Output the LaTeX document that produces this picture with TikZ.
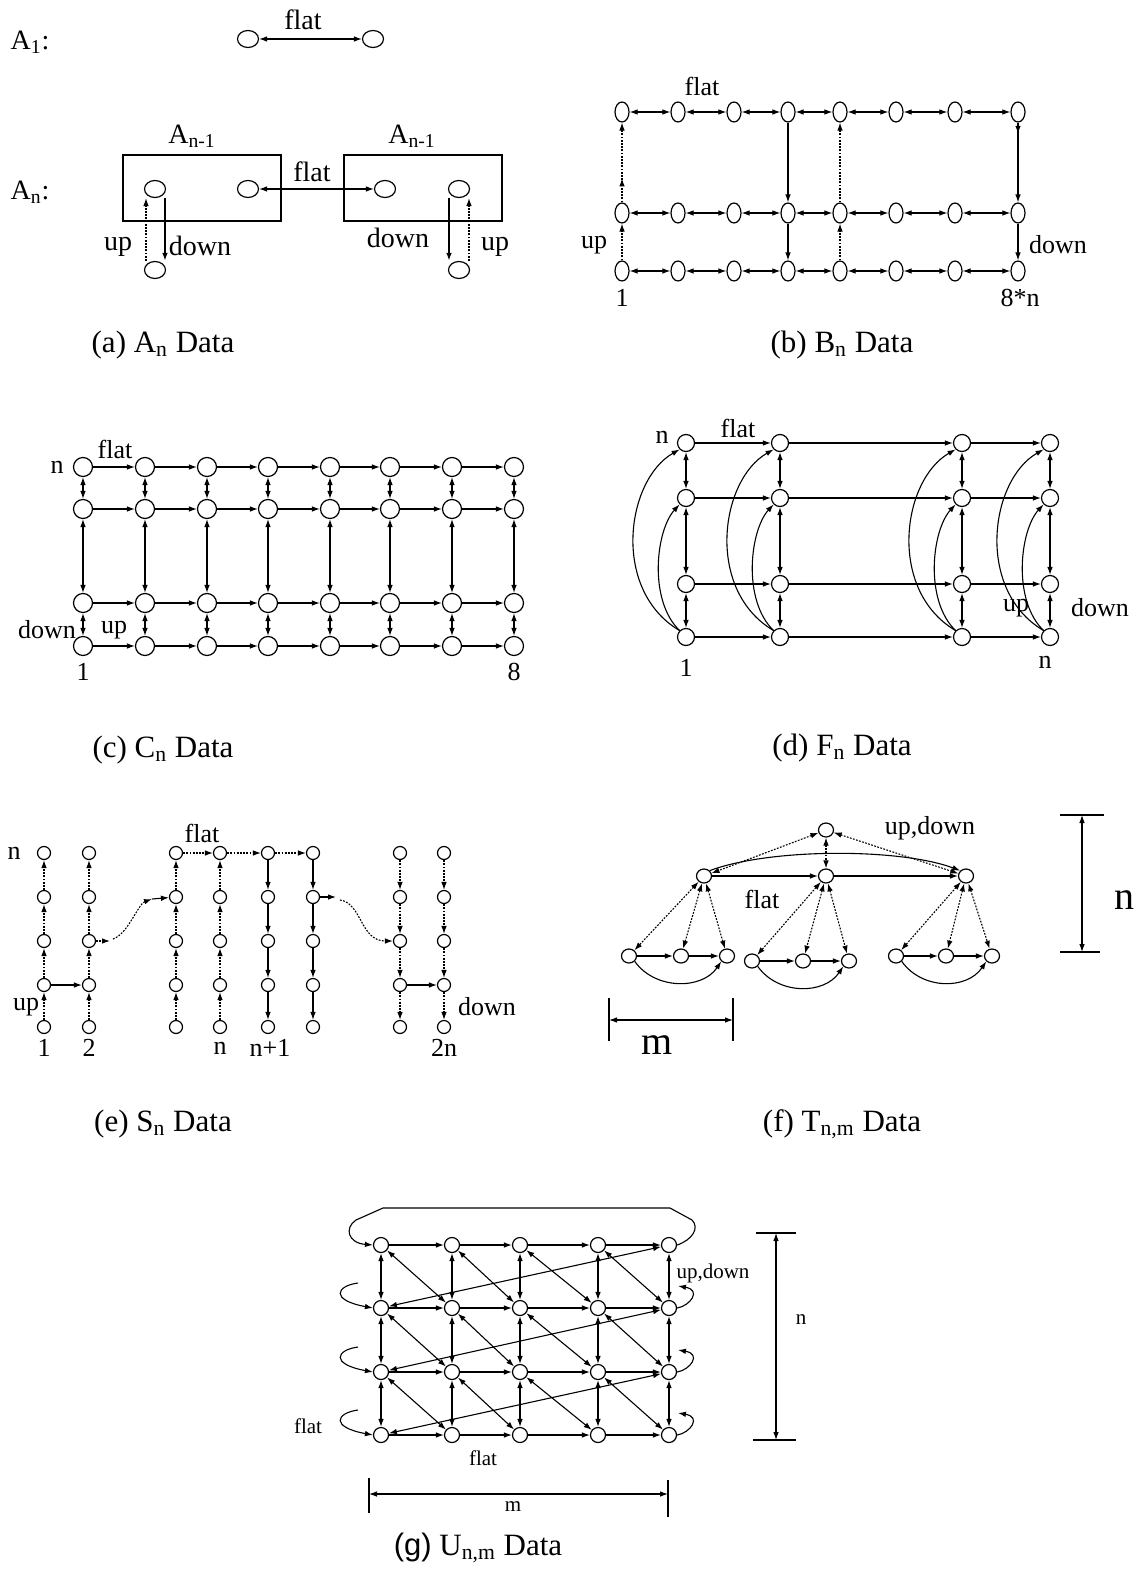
\documentclass[tikz,border=0pt]{standalone}
\usepackage{fontspec}
\setmainfont{Liberation Serif}
\newfontfamily\sansf{Liberation Sans}
\usetikzlibrary{arrows.meta,shapes.geometric,decorations.markings}
\tikzset{
  >={Latex[length=4pt,width=2.8pt]},
  ln/.style={line width=0.55pt},
  thk/.style={line width=0.9pt},
  dl/.style={line width=0.55pt, dash pattern=on 0.9pt off 0.7pt},
  vx/.style={draw, ellipse, inner sep=0pt, line width=0.6pt},
  vA/.style={vx, minimum width=10.5pt, minimum height=8.5pt},
  vB/.style={vx, minimum width=7pt, minimum height=10pt},
  vC/.style={vx, minimum width=9.5pt, minimum height=9.5pt},
  vD/.style={vx, minimum width=8.5pt, minimum height=8.5pt},
  vE/.style={vx, minimum width=6.5pt, minimum height=6.5pt},
  vF/.style={vx, minimum width=7.5pt, minimum height=7pt},
  vG/.style={vx, minimum width=7.5pt, minimum height=7.5pt},
  lab/.style={inner sep=0pt, font=\fontsize{13}{13}\selectfont},
  labA/.style={inner sep=0pt, font=\fontsize{14}{14}\selectfont},
  labG/.style={inner sep=0pt, font=\fontsize{10.5}{10.5}\selectfont},
  labL/.style={inner sep=0pt, font=\fontsize{20}{20}\selectfont},
  capt/.style={inner sep=0pt, font=\fontsize{15.5}{16}\selectfont},
  midarr/.style={postaction={decorate}, decoration={markings, mark=at position #1 with {\arrow{>}}}},
}
\begin{document}
\begin{tikzpicture}[x=0.5pt,y=-0.5pt]
\path[use as bounding box] (0,0) rectangle (1146,1573);

% ---------------- (a) ----------------
\node[labA] at (30,42) {A\textsubscript{1}:};
\node[vA] (a1) at (248,39) {};
\node[vA] (a2) at (373,39) {};
\draw[ln,<->] (a1) -- (a2);
\node[labA] at (303,20) {flat};
\node[labA] at (192,136) {A\textsubscript{n-1}};
\node[labA] at (412,136) {A\textsubscript{n-1}};
\node[labA] at (30,192) {A\textsubscript{n}:};
\draw[ln] (123,155) rectangle (281,221);
\draw[ln] (344,155) rectangle (502,221);
\node[vA] (aL1) at (155,189) {};
\node[vA] (aL2) at (248,189) {};
\node[vA] (aR1) at (385,189) {};
\node[vA] (aR2) at (459,189) {};
\node[vA] (aLb) at (155,270) {};
\node[vA] (aRb) at (459,270) {};
\draw[ln,<->] (aL2) -- (aR1);
\node[labA] at (312,172) {flat};
\draw[dl,->] ([xshift=-4.5pt]aLb.north) -- ([xshift=-4.5pt]aL1.south);
\draw[thk,->] ([xshift=5pt]aL1.south) -- ([xshift=5pt]aLb.north);
\draw[thk,->] ([xshift=-5pt]aR2.south) -- ([xshift=-5pt]aRb.north);
\draw[dl,->] ([xshift=5pt]aRb.north) -- ([xshift=5pt]aR2.south);
\node[labA] at (118,247) {up};
\node[labA] at (200,246) {down};
\node[labA] at (398,238) {down};
\node[labA] at (495,247) {up};
\node[capt] at (163,345) {(a) A\textsubscript{n} Data};

% ---------------- (b) ----------------
\foreach \x [count=\i] in {622,678,734,788,840,896,955,1018}{
  \foreach \y [count=\j] in {112,213,271}{\node[vB] (b\i\j) at (\x,\y) {};}}
\foreach \i in {1,...,7}{\pgfmathtruncatemacro\k{\i+1}
  \foreach \j in {1,2,3}{\draw[ln,<->] (b\i\j) -- (b\k\j);}}
\draw[dl,->] (b13) -- (b12);
\draw[dl,->,midarr=0.3] (b12) -- (b11);
\draw[ln,->] (b41) -- (b42);
\draw[ln,->] (b42) -- (b43);
\draw[dl,->] (b53) -- (b52);
\draw[dl,->] (b52) -- (b51);
\draw[ln,->,midarr=0.14] (b81) -- (b82);
\draw[ln,->] (b82) -- (b83);
\node[lab] at (702,86) {flat};
\node[lab] at (594,245) {up};
\node[lab] at (1058,245) {down};
\node[lab] at (622,298) {1};
\node[lab] at (1020,298) {8*n};
\node[capt] at (842,345) {(b) B\textsubscript{n} Data};

% ---------------- (c) ----------------
\foreach \x [count=\i] in {83,145,207,268,330,390,452,514}{
  \foreach \y [count=\j] in {467,509,603,646}{\node[vC] (c\i\j) at (\x,\y) {};}}
\foreach \i in {1,...,7}{\pgfmathtruncatemacro\k{\i+1}
  \foreach \j in {1,...,4}{\draw[ln,->] (c\i\j) -- (c\k\j);}}
\foreach \i in {1,...,8}{\foreach \j in {1,2,3}{\pgfmathtruncatemacro\l{\j+1}
  \draw[ln,<->] (c\i\j) -- (c\i\l);}}
\node[lab] at (57,467) {n};
\node[lab] at (115,449) {flat};
\node[lab] at (47,630) {down};
\node[lab] at (114,630) {up};
\node[lab] at (83,672) {1};
\node[lab] at (514,672) {8};
\node[capt] at (163,750) {(c) C\textsubscript{n} Data};

% ---------------- (d) ----------------
\foreach \x [count=\i] in {686,780,962,1050}{
  \foreach \y [count=\j] in {443,498,584,637}{\node[vD] (d\i\j) at (\x,\y) {};}}
\foreach \i in {1,2,3}{\pgfmathtruncatemacro\k{\i+1}
  \foreach \j in {1,...,4}{\draw[ln,->] (d\i\j) -- (d\k\j);}}
\foreach \i in {1,...,4}{\foreach \j in {1,2,3}{\pgfmathtruncatemacro\l{\j+1}
  \draw[ln,<->] (d\i\j) -- (d\i\l);}}
\foreach \x [count=\i] in {686,780,962,1050}{
  \draw[ln,->] (d\i4.north west) .. controls ({\x-75},590) and ({\x-60},480) .. (d\i1.south west);
  \draw[ln,->] (d\i4.north west) .. controls ({\x-38},600) and ({\x-30},530) .. (d\i2.south west);}
\node[lab] at (662,437) {n};
\node[lab] at (738,428) {flat};
\node[lab] at (686,668) {1};
\node[lab] at (1045,662) {n};
\node[lab] at (1016,608) {up};
\node[lab] at (1100,608) {down};
\node[capt] at (842,748) {(d) F\textsubscript{n} Data};

% ---------------- (e) ----------------
\foreach \x [count=\i] in {44,89,176,220,268,313,400,444}{
  \foreach \y [count=\j] in {853,897,941,985,1027}{\node[vE] (e\i\j) at (\x,\y) {};}}
\foreach \i in {1,2,3,4}{\foreach \j in {1,...,4}{\pgfmathtruncatemacro\l{\j+1}
  \draw[dl,->] (e\i\l) -- (e\i\j);}}
\foreach \i in {5,6}{\foreach \j in {1,...,4}{\pgfmathtruncatemacro\l{\j+1}
  \draw[ln,->] (e\i\j) -- (e\i\l);}}
\foreach \i in {7,8}{\foreach \j in {1,...,4}{\pgfmathtruncatemacro\l{\j+1}
  \draw[dl,->] (e\i\j) -- (e\i\l);}}
\draw[ln,->] (e14) -- (e24);
\draw[dl,->] (e31) -- (e41);
\draw[dl,->] (e41) -- (e51);
\draw[dl,->] (e51) -- (e61);
\draw[ln,->] (e74) -- (e84);
\coordinate (eq1) at (110,941);
\coordinate (eq2) at (113,939);
\coordinate (eq3) at (152,899);
\draw[dl,->] (e23) -- (eq1);
\draw[dl,->] (eq2) .. controls (128,934) and (138,904) .. (eq3);
\draw[ln,->] (eq3) -- (e32);
\coordinate (eq4) at (336,897);
\coordinate (eq5) at (340,900);
\draw[ln,->] (e62) -- (eq4);
\draw[dl,->] (eq5) .. controls (362,903) and (360,941) .. (e73.west);
\node[lab] at (14,853) {n};
\node[lab] at (202,833) {flat};
\node[lab] at (26,1007) {up};
\node[lab] at (487,1007) {down};
\node[lab] at (44,1048) {1};
\node[lab] at (89,1048) {2};
\node[lab] at (220,1048) {n};
\node[lab] at (270,1048) {n+1};
\node[lab] at (444,1048) {2n};
\node[capt] at (163,1124) {(e) S\textsubscript{n} Data};

% ---------------- (f) ----------------
\node[vF] (fr) at (826,830) {};
\node[vF] (f1) at (704,876) {};
\node[vF] (f2) at (826,876) {};
\node[vF] (f3) at (966,876) {};
\node[vF] (f11) at (629,956) {};
\node[vF] (f12) at (681,956) {};
\node[vF] (f13) at (727,956) {};
\node[vF] (f21) at (752,961) {};
\node[vF] (f22) at (803,961) {};
\node[vF] (f23) at (849,961) {};
\node[vF] (f31) at (896,956) {};
\node[vF] (f32) at (946,956) {};
\node[vF] (f33) at (992,956) {};
\foreach \i in {1,2,3}{\draw[dl,<->] (fr) -- (f\i);
  \foreach \j in {1,2,3}{\draw[dl,<->] (f\i) -- (f\i\j);}
  \draw[ln,->] (f\i1) -- (f\i2);
  \draw[ln,->] (f\i2) -- (f\i3);}
\draw[ln,->] (f1) -- (f2);
\draw[ln,->] (f2) -- (f3);
\draw[ln,->] (f1.north east) .. controls (770,848) and (900,848) .. (f3.north west);
\draw[ln,->] (f11.south east) .. controls (655,990) and (702,990) .. (f13.south west);
\draw[ln,->] (f21.south east) .. controls (778,995) and (824,995) .. (f23.south west);
\draw[ln,->] (f31.south east) .. controls (922,990) and (967,990) .. (f33.south west);
\coordinate (fn1) at (1082,815);
\coordinate (fn2) at (1082,952);
\draw[ln,<->] (fn1) -- (fn2);
\draw[ln] (1060,815) -- (1104,815);
\draw[ln] (1060,952) -- (1100,952);
\coordinate (fm1) at (609,1020);
\coordinate (fm2) at (733,1020);
\draw[ln,<->] (fm1) -- (fm2);
\draw[ln] (609,998) -- (609,1041);
\draw[ln] (733,998) -- (733,1041);
\node[lab] at (930,828) {up,down};
\node[lab] at (762,899) {flat};
\node[labL] at (1124,900) {n};
\node[labL] at (657,1045) {m};
\node[capt] at (842,1124) {(f) T\textsubscript{n,m} Data};

% ---------------- (g) ----------------
\foreach \x [count=\i] in {381,452,520,598,669}{
  \foreach \y [count=\j] in {1245,1308,1372,1435}{\node[vG] (g\i\j) at (\x,\y) {};}}
\foreach \i in {1,...,4}{\pgfmathtruncatemacro\k{\i+1}
  \foreach \j in {1,...,4}{\draw[ln,->] (g\i\j) -- (g\k\j);}}
\foreach \i in {1,...,5}{\foreach \j in {1,2,3}{\pgfmathtruncatemacro\l{\j+1}
  \draw[ln,<->] (g\i\j) -- (g\i\l);}}
\foreach \i in {1,...,4}{\pgfmathtruncatemacro\k{\i+1}
  \foreach \j in {1,2,3}{\pgfmathtruncatemacro\l{\j+1}
  \draw[ln,<->] (g\i\j) -- (g\k\l);}}
\foreach \j in {1,2,3}{\pgfmathtruncatemacro\l{\j+1}
  \draw[ln,<->] (g5\j) -- (g1\l);}
\draw[ln,->] (g51.east) .. controls (692,1240) and (700,1228) .. (692,1220) -- (670,1208) -- (383,1208) -- (356,1220) .. controls (344,1228) and (348,1243) .. (g11.west);
\foreach \y [count=\j from 2] in {1308,1372,1435}{
  \coordinate (gs\j) at (358,{\y-25});
  \draw[ln,->] (gs\j) .. controls (336,{\y-22}) and (330,{\y-8}) .. (g1\j.west);
  \coordinate (gt\j) at (678,{\y-22});
  \draw[ln,->] (g5\j.east) .. controls (690,{\y-2}) and (702,{\y-18}) .. (gt\j);}
\coordinate (gn1) at (776,1233);
\coordinate (gn2) at (776,1440);
\draw[ln,<->] (gn1) -- (gn2);
\draw[ln] (756,1233) -- (796,1233);
\draw[ln] (753,1440) -- (796,1440);
\coordinate (gm1) at (369,1494);
\coordinate (gm2) at (668,1494);
\draw[ln,<->] (gm1) -- (gm2);
\draw[ln] (369,1478) -- (369,1513);
\draw[ln] (668,1480) -- (668,1517);
\node[labG] at (308,1426) {flat};
\node[labG] at (483,1458) {flat};
\node[labG] at (713,1273) {up,down};
\node[labG] at (801,1320) {n};
\node[labG] at (513,1507) {m};
\node[capt] at (478,1548) {{\sansf (g)} U\textsubscript{n,m} Data};
\end{tikzpicture}
\end{document}
